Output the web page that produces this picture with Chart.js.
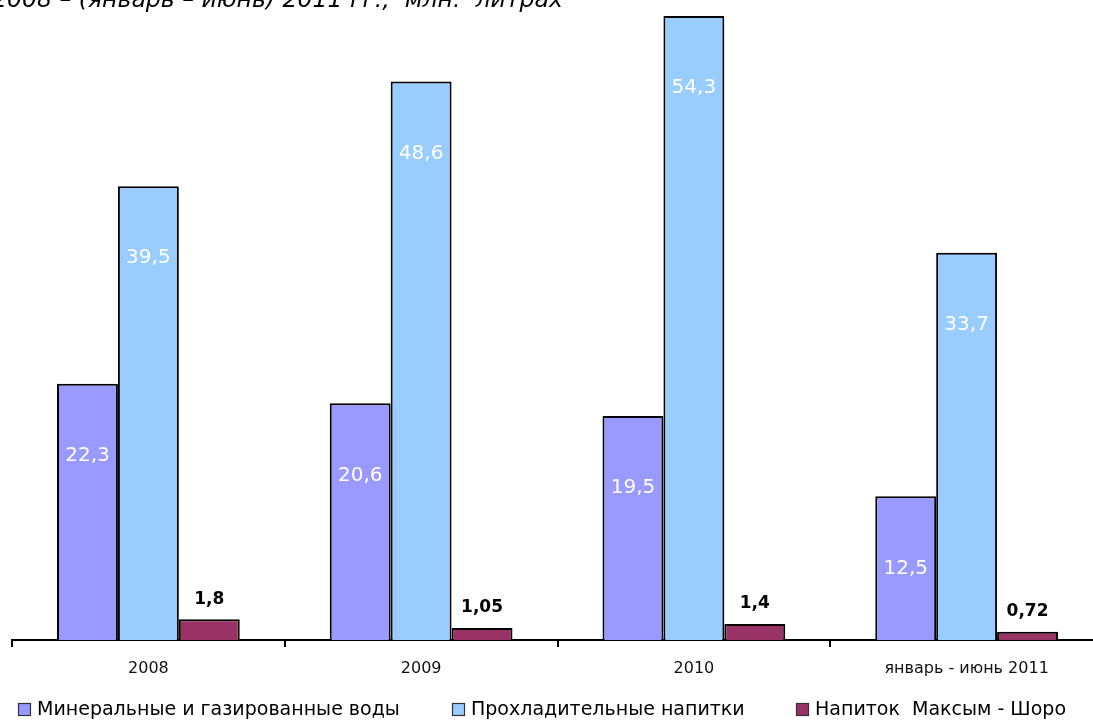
<!DOCTYPE html>
<html>
<head>
<meta charset="utf-8">
<script src="https://cdn.jsdelivr.net/npm/chart.js@4"></script>
<style>
html,body{margin:0;padding:0;overflow:hidden;background:#fff;}
#wrap{position:absolute;left:0;top:0;width:1110px;height:720px;}
</style>
</head>
<body>
<div id="wrap"><canvas id="c" width="1110" height="720"></canvas></div>
<script>
const categories = ['2008', '2009', '2010', 'январь - июнь 2011'];
const mineralWater = [22.3, 20.6, 19.5, 12.5];
const softDrinks = [39.5, 48.6, 54.3, 33.7];
const maksymShoro = [1.8, 1.05, 1.4, 0.72];
const seriesNames = ['Минеральные и газированные воды', 'Прохладительные напитки', 'Напиток  Максым - Шоро'];
const titleText = '2008 – (январь – июнь) 2011 гг.,  млн.  литрах';

const FONT = '"DejaVu Sans", Verdana, sans-serif';
const colors = ['#9999FF', '#99CCFF', '#993366'];

function fmt(v){ return String(v).replace('.', ','); }

function fitFont(ctx, text, width, style){
  ctx.font = style + ' 100px ' + FONT;
  const w = ctx.measureText(text).width;
  return 100 * width / w;
}

const overlay = {
  id: 'overlay',
  afterDatasetsDraw(chart){
    const ctx = chart.ctx;
    ctx.save();
    ctx.textAlign = 'center';
    ctx.textBaseline = 'middle';
    chart.data.datasets.forEach((ds, i) => {
      const meta = chart.getDatasetMeta(i);
      meta.data.forEach((el, j) => {
        const v = ds.data[j];
        if (i < 2) {
          ctx.font = '20px ' + FONT;
          ctx.fillStyle = '#ffffff';
          ctx.fillText(fmt(v), el.x, el.y + 72);
        } else {
          ctx.font = 'bold 17px ' + FONT;
          ctx.fillStyle = '#000000';
          ctx.fillText(fmt(v), el.x, el.y - 20);
        }
      });
    });
    ctx.restore();
  },
  afterDraw(chart){
    const ctx = chart.ctx;
    ctx.save();
    // title (cut off at top / left as in reference)
    let fs = fitFont(ctx, titleText, 571, 'italic');
    ctx.font = 'italic ' + fs.toFixed(2) + 'px ' + FONT;
    ctx.fillStyle = '#000';
    ctx.textAlign = 'left';
    ctx.textBaseline = 'alphabetic';
    ctx.fillText(titleText, -8, 7);
    // legend
    const starts = [18, 452, 796];
    const f = fitFont(ctx, chart.data.datasets[0].label, 363, 'normal');
    ctx.textBaseline = 'middle';
    chart.data.datasets.forEach((ds, i) => {
      const x = starts[i];
      ctx.fillStyle = ds.backgroundColor;
      ctx.fillRect(x, 703, 13, 13);
      ctx.strokeStyle = '#333';
      ctx.lineWidth = 1.2;
      ctx.strokeRect(x + 0.5, 703.5, 12, 12);
      ctx.font = f.toFixed(2) + 'px ' + FONT;
      ctx.fillStyle = '#000';
      ctx.fillText(ds.label, x + 19, 710);
    });
    ctx.restore();
  }
};

const mk = (label, data, color) => ({
  label, data,
  backgroundColor: color,
  borderColor: '#000',
  borderWidth: 2,
  borderSkipped: 'bottom',
  categoryPercentage: 0.67,
  barPercentage: 1.0
});

new Chart(document.getElementById('c'), {
  type: 'bar',
  data: {
    labels: categories,
    datasets: [
      mk(seriesNames[0], mineralWater, colors[0]),
      mk(seriesNames[1], softDrinks, colors[1]),
      mk(seriesNames[2], maksymShoro, colors[2])
    ]
  },
  options: {
    responsive: false,
    animation: false,
    devicePixelRatio: 1,
    layout: { padding: { left: 12, right: 7, top: 0, bottom: 0 } },
    plugins: {
      legend: { display: false },
      title: { display: false },
      tooltip: { enabled: false }
    },
    scales: {
      y: {
        display: false,
        min: 0,
        max: 55.7
      },
      x: {
        afterFit(scale){ scale.height = 80; },
        border: { display: true, color: '#000', width: 2 },
        grid: {
          display: true,
          drawOnChartArea: false,
          drawTicks: true,
          tickLength: 7,
          color: '#000',
          lineWidth: 2,
          offset: true
        },
        ticks: {
          color: '#111',
          padding: 12,
          font: { family: FONT, size: 16 },
          maxRotation: 0,
          autoSkip: false
        }
      }
    }
  },
  plugins: [overlay]
});
</script>
</body>
</html>
